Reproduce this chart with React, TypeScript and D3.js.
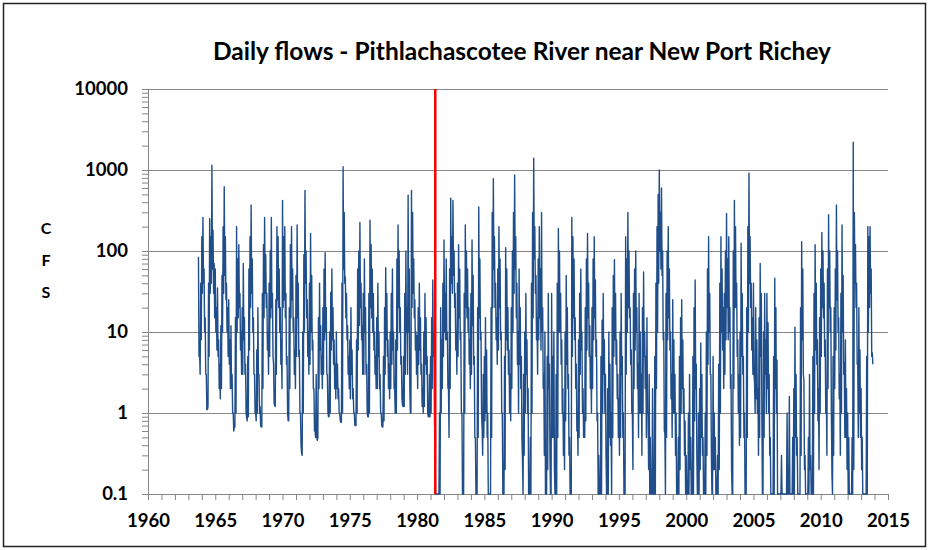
// @ts-nocheck
import React, { useEffect, useRef } from 'react';
import * as d3 from 'd3';

const chartTitle = 'Daily flows - Pithlachascotee River near New Port Richey';
const yAxisLetters = ['C', 'F', 'S'];
const yTickValues = [0.1, 1, 10, 100, 1000, 10000];
const xLabelYears = [1960, 1965, 1970, 1975, 1980, 1985, 1990, 1995, 2000, 2005, 2010, 2015];
const splitYear = 1981.35;

// flows in cfs: monthly high and monthly low; the 1960s blocks start Oct 1963
const peaks1960s = [
  85, 6, 40,
  150, 260, 60, 15, 3, 1.1, 40, 250, 150, 1150, 180, 70,
  60, 20, 35, 8, 4, 12, 50, 200, 620, 150, 40, 20,
  25, 8, 12, 3, 1, 0.67, 15, 200, 80, 120, 30, 10,
  20, 70, 15, 4, 0.87, 5, 60, 150, 370, 80, 15, 3,
  1, 6, 20, 3, 1.2, 0.67, 30, 120, 260, 90, 30, 10,
  40, 100, 260, 30, 4, 1.25, 25, 200, 150, 60, 20, 8,
];
const lows1960s = [
  5, 3, 8,
  30, 40, 10, 3, 1.1, 1.2, 5, 30, 40, 60, 30, 15,
  10, 6, 5, 2, 1.5, 2, 10, 30, 50, 25, 10, 5,
  4, 2, 2, 1, 0.6, 0.67, 1, 10, 15, 20, 6, 3,
  3, 8, 3, 1, 0.8, 0.9, 6, 20, 30, 10, 3, 1,
  0.8, 1, 3, 1, 0.7, 0.67, 2, 15, 30, 20, 6, 3,
  5, 15, 20, 5, 1.3, 1.2, 3, 25, 20, 10, 4, 2,
];
const peaks1970s = [
  420, 150, 200, 30, 5, 0.8, 20, 120, 200, 60, 15, 6,
  50, 210, 40, 6, 1, 0.32, 10, 90, 560, 100, 25, 10,
  40, 165, 50, 8, 2, 0.6, 3, 0.46, 15, 40, 12, 5,
  20, 60, 95, 20, 3, 0.9, 10, 31, 60, 20, 8, 4,
  10, 4, 2, 1, 0.77, 40, 1100, 300, 48, 30, 12, 5,
  8, 20, 6, 2, 1, 0.7, 8, 60, 100, 225, 40, 12,
  30, 80, 20, 4, 0.9, 30, 240, 120, 60, 30, 10, 5,
  15, 40, 10, 3, 1, 0.67, 5, 20, 62, 30, 8, 4,
  10, 30, 60, 10, 2, 8, 80, 210, 100, 20, 5, 1.25,
  5, 30, 100, 20, 490, 60, 1, 560, 300, 80, 25, 10,
];
const lows1970s = [
  20, 25, 15, 4, 1, 0.8, 2, 15, 25, 10, 3, 2,
  5, 15, 5, 1, 0.4, 0.3, 1, 10, 40, 15, 5, 3,
  4, 10, 6, 2, 0.6, 0.5, 0.5, 0.5, 2, 6, 3, 2,
  3, 8, 10, 3, 1, 0.9, 1, 6, 8, 4, 2, 1.5,
  2, 1.5, 1, 0.8, 0.77, 1, 60, 40, 15, 8, 3, 2,
  1.5, 3, 1.5, 1, 0.7, 0.7, 1, 6, 12, 20, 8, 3,
  3, 10, 3, 1, 0.9, 1, 20, 15, 10, 6, 3, 2,
  2, 5, 2, 1, 0.7, 0.67, 0.8, 3, 8, 5, 2, 1.5,
  2, 4, 6, 2, 1, 1, 6, 20, 10, 4, 1.5, 1.2,
  1.2, 3, 10, 3, 10, 2, 1, 20, 30, 15, 6, 3,
];
const peaks1980s = [
  9, 20, 40, 15, 4, 2, 10, 30, 15, 5, 0.9, 3,
  5, 15, 44, 10, 0.5, 0.1, 0.1, 0.1, 1, 20, 8, 40,
  137, 30, 80, 10, 2, 60, 450, 150, 420, 100, 30, 10,
  40, 120, 60, 10, 1, 0.1, 30, 210, 100, 60, 20, 8,
  30, 137, 50, 5, 0.5, 0.1, 20, 350, 80, 10, 0.67, 3,
  5, 15, 6, 1, 0.1, 0.1, 20, 300, 780, 150, 40, 15,
  60, 200, 80, 10, 1, 0.1, 5, 110, 60, 20, 6, 3,
  20, 100, 300, 870, 150, 40, 10, 60, 20, 5, 0.26, 3,
  10, 30, 8, 2, 0.1, 0.5, 40, 300, 1400, 200, 50, 15,
  80, 200, 60, 300, 20, 3, 10, 0.1, 5, 30, 4, 0.1,
];
const lows1980s = [
  2, 4, 6, 3, 1.2, 1, 1.2, 4, 3, 1, 0.9, 0.9,
  1, 2, 5, 0.8, 0.1, 0.1, 0.1, 0.1, 0.1, 1, 2, 5,
  10, 8, 8, 2, 0.5, 2, 40, 30, 50, 20, 6, 3,
  5, 15, 8, 1, 0.1, 0.1, 1, 20, 15, 10, 4, 2,
  3, 12, 4, 0.5, 0.1, 0.1, 0.5, 15, 8, 1, 0.3, 0.5,
  0.8, 1, 0.5, 0.1, 0.1, 0.1, 0.5, 20, 60, 20, 8, 4,
  6, 20, 8, 1, 0.1, 0.1, 0.2, 8, 6, 3, 1, 0.8,
  2, 10, 30, 60, 15, 4, 1, 4, 2, 0.5, 0.1, 0.3,
  1, 3, 1, 0.1, 0.1, 0.1, 1, 15, 80, 30, 8, 3,
  8, 15, 6, 10, 2, 0.3, 0.1, 0.1, 0.2, 2, 0.3, 0.1,
];
const peaks1990s = [
  30, 5, 10, 0.1, 3, 40, 190, 100, 30, 8, 2, 1,
  10, 50, 20, 3, 0.5, 0.1, 260, 150, 80, 15, 4, 1,
  8, 30, 60, 10, 2, 0.57, 20, 80, 165, 40, 12, 5,
  20, 80, 150, 44, 8, 1, 0.3, 0.1, 5, 14, 30, 8,
  3, 0.1, 2, 10, 4, 1, 20, 50, 78, 30, 8, 3,
  1.5, 10, 30, 5, 1, 0.1, 150, 80, 300, 100, 20, 6,
  1, 30, 60, 100, 20, 4, 30, 10, 3, 20, 55, 10,
  5, 15, 1, 3, 0.5, 0.1, 2, 0.1, 5, 40, 200, 500,
  1000, 300, 600, 100, 10, 0.57, 30, 100, 200, 60, 10, 3,
  25, 8, 3, 1, 0.1, 0.5, 5, 15, 25, 8, 2, 0.8,
];
const lows1990s = [
  0.5, 0.5, 0.2, 0.1, 0.1, 0.5, 10, 10, 4, 1, 0.3, 0.2,
  0.8, 4, 2, 0.3, 0.1, 0.1, 5, 15, 8, 2, 0.6, 0.3,
  0.5, 3, 6, 1, 0.5, 0.5, 0.8, 6, 15, 5, 2, 1,
  2, 8, 15, 5, 0.8, 0.1, 0.1, 0.1, 0.1, 1, 3, 1,
  0.3, 0.1, 0.1, 0.5, 0.4, 0.1, 0.5, 5, 8, 4, 1.5, 0.5,
  0.3, 0.5, 3, 0.5, 0.1, 0.1, 3, 10, 20, 15, 4, 1,
  0.2, 2, 6, 10, 2, 0.5, 1, 1, 0.3, 1, 5, 2,
  0.5, 1, 0.2, 0.1, 0.1, 0.1, 0.1, 0.1, 0.1, 2, 10, 40,
  100, 60, 50, 8, 0.6, 0.1, 0.5, 8, 15, 6, 1.5, 0.5,
  1, 1, 0.3, 0.1, 0.1, 0.1, 0.2, 1, 2, 1, 0.3, 0.1,
];
const peaks2000s = [
  0.3, 0.1, 1, 3, 0.5, 0.1, 5, 20, 44, 4, 0.1, 1,
  2, 7.3, 3, 0.5, 0.1, 1, 10, 60, 150, 30, 3, 0.1,
  5, 1, 0.5, 0.1, 0.3, 4, 40, 150, 60, 20, 30, 100,
  290, 80, 150, 20, 3, 0.1, 100, 420, 200, 40, 8, 3,
  10, 125, 30, 5, 1, 0.1, 20, 200, 920, 150, 40, 15,
  40, 2.3, 20, 8, 2, 15, 70, 30, 0.1, 10, 30, 8,
  30, 13, 3, 0.5, 0.1, 0.1, 5, 46, 20, 4.5, 0.1, 0.1,
  0.1, 0.3, 0.1, 0.1, 0.1, 0.1, 1, 0.1, 1.6, 0.1, 0.1, 0.5,
  2, 11.5, 3, 0.5, 0.1, 0.1, 20, 130, 60, 2.5, 0.3, 0.1,
  0.1, 0.5, 3, 0.3, 0.1, 5, 30, 120, 40, 8, 2, 15,
];
const lows2000s = [
  0.1, 0.1, 0.1, 0.2, 0.1, 0.1, 0.1, 0.8, 2, 0.3, 0.1, 0.1,
  0.2, 0.5, 0.3, 0.1, 0.1, 0.1, 0.3, 4, 10, 3, 0.3, 0.1,
  0.2, 0.2, 0.1, 0.1, 0.1, 0.2, 1, 10, 6, 2, 3, 8,
  20, 8, 10, 2, 0.2, 0.1, 2, 20, 20, 5, 1, 0.4,
  0.5, 5, 3, 0.5, 0.1, 0.1, 0.5, 10, 40, 20, 6, 3,
  3, 1, 1.5, 1, 0.3, 0.5, 5, 1, 0.1, 0.5, 3, 1,
  2, 1, 0.3, 0.1, 0.1, 0.1, 0.1, 2, 1, 0.1, 0.1, 0.1,
  0.1, 0.1, 0.1, 0.1, 0.1, 0.1, 0.1, 0.1, 0.1, 0.1, 0.1, 0.1,
  0.1, 0.5, 0.3, 0.1, 0.1, 0.1, 0.3, 8, 3, 0.2, 0.1, 0.1,
  0.1, 0.1, 0.2, 0.1, 0.1, 0.1, 1, 6, 4, 0.8, 0.2, 1,
];
const peaks2010s = [
  60, 170, 100, 40, 8, 2, 60, 280, 100, 20, 0.18, 5,
  20, 60, 370, 100, 15, 3, 30, 210, 50, 4.2, 8, 2,
  1, 0.5, 0.1, 0.1, 0.5, 2200, 300, 120, 40, 4.2, 20, 6,
  2, 0.5, 0.1, 0.1, 0.1, 5, 200, 150, 200, 60, 5.5,
];
const lows2010s = [
  5, 20, 15, 5, 1, 0.3, 2, 20, 10, 1, 0.1, 0.3,
  2, 6, 25, 10, 1.5, 0.3, 1, 10, 3, 0.5, 0.5, 0.2,
  0.1, 0.1, 0.1, 0.1, 0.1, 0.2, 40, 20, 4, 0.5, 1, 0.5,
  0.2, 0.1, 0.1, 0.1, 0.1, 0.1, 10, 20, 30, 5, 4,
];
const blockStarts = [1963.75, 1970, 1980, 1990, 2000, 2010];

const App = () => {
  const ref = useRef(null);

  useEffect(() => {
    const svg = d3.select(ref.current);
    svg.selectAll('*').remove();

    const left = 148, right = 888, top = 89, bottom = 494;
    const font = 'Lato, "Open Sans", sans-serif';
    const grey = '#868686';

    const x = d3.scaleLinear().domain([1960, 2015]).range([left, right]);
    const y = d3.scaleLog().domain([0.1, 10000]).range([bottom, top]);

    const peaks = [peaks1960s, peaks1970s, peaks1980s, peaks1990s, peaks2000s, peaks2010s];
    const lows = [lows1960s, lows1970s, lows1980s, lows1990s, lows2000s, lows2010s];
    // within each month: the high first, then the low
    const points = peaks.flatMap((vals, b) =>
      vals.flatMap((v, i) => [
        [blockStarts[b] + i / 12, v],
        [blockStarts[b] + (i + 0.5) / 12, lows[b][i]],
      ])
    );

    // outer frame
    svg.append('rect')
      .attr('x', 3.5).attr('y', 3.5).attr('width', 922).attr('height', 543)
      .attr('fill', 'white').attr('stroke', '#222').attr('stroke-width', 1.5);

    // title
    svg.append('text')
      .attr('x', 522).attr('y', 60)
      .attr('text-anchor', 'middle')
      .style('font-family', font).style('font-weight', 700).style('font-size', '24.5px')
      .text(chartTitle);

    // gridlines
    svg.append('g')
      .attr('transform', `translate(${left},0)`)
      .call(d3.axisLeft(y).tickValues(yTickValues).tickSize(-(right - left)).tickFormat(''))
      .call((g) => g.select('.domain').remove())
      .selectAll('line').attr('stroke', grey);

    // y minor ticks
    const minor = [];
    yTickValues.slice(0, -1).forEach((d) => { for (let k = 1; k < 10; k++) minor.push(d * k); });
    minor.push(10000);
    svg.append('g')
      .attr('transform', `translate(${left},0)`)
      .call(d3.axisLeft(y).tickValues(minor).tickSize(6).tickFormat(''))
      .call((g) => g.select('.domain').attr('stroke', grey))
      .selectAll('line').attr('stroke', grey);

    // y labels
    svg.append('g')
      .attr('transform', `translate(${left},0)`)
      .call(d3.axisLeft(y).tickValues(yTickValues).tickSize(0).tickPadding(20).tickFormat((d) => String(d)))
      .call((g) => g.select('.domain').remove())
      .selectAll('text')
      .style('font-family', font).style('font-weight', 700).style('font-size', '18.5px').attr('fill', 'black');

    // x ticks and labels
    svg.append('g')
      .attr('transform', `translate(0,${bottom})`)
      .call(d3.axisBottom(x).tickValues(d3.range(1960, 2016)).tickSize(6).tickFormat(''))
      .call((g) => g.select('.domain').attr('stroke', grey))
      .selectAll('line').attr('stroke', grey);
    svg.append('g')
      .attr('transform', `translate(0,${bottom})`)
      .call(d3.axisBottom(x).tickValues(xLabelYears).tickSize(0).tickPadding(20).tickFormat(d3.format('d')))
      .call((g) => g.select('.domain').remove())
      .selectAll('text')
      .style('font-family', font).style('font-weight', 700).style('font-size', '18.5px').attr('fill', 'black');

    // CFS label
    svg.append('g')
      .selectAll('text')
      .data(yAxisLetters)
      .enter()
      .append('text')
      .attr('x', 46)
      .attr('y', (d, i) => 234 + i * 32)
      .attr('text-anchor', 'middle')
      .style('font-family', font).style('font-weight', 700).style('font-size', '16px')
      .text((d) => d);

    // flow series
    const line = d3.line()
      .x((d) => x(d[0]))
      .y((d) => y(Math.max(d[1], 0.1)));
    svg.append('path')
      .datum(points)
      .attr('d', line)
      .attr('fill', 'none')
      .attr('stroke', '#1f4e8a')
      .attr('stroke-width', 1.4)
      .attr('stroke-linejoin', 'round');

    // split marker
    svg.append('line')
      .attr('x1', x(splitYear)).attr('x2', x(splitYear))
      .attr('y1', y(0.1)).attr('y2', y(10000))
      .attr('stroke', '#ff0000').attr('stroke-width', 2.5);
  }, []);

  return (
    <svg ref={ref} width={930} height={550} style={{ position: 'absolute', left: 0, top: 0 }} />
  );
};

export default App;
